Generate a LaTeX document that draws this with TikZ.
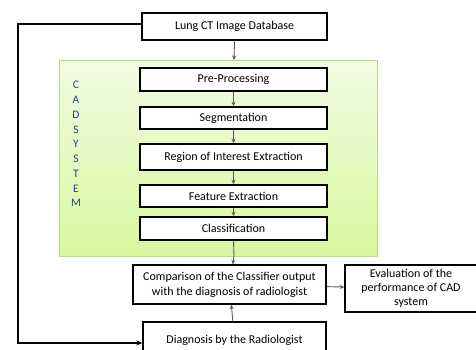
\documentclass[tikz,border=0pt]{standalone}
\usepackage{fontspec}
\setmainfont{Carlito}
\usetikzlibrary{arrows.meta}
\definecolor{cadtop}{RGB}{242,251,228}
\definecolor{cadbottom}{RGB}{215,248,158}
\definecolor{cadedge}{RGB}{183,219,135}
\definecolor{cadletter}{RGB}{31,73,125}

\begin{document}
\begin{tikzpicture}[x=1pt,y=-1pt,
	stage/.style={draw, line width=1.4pt, fill=white, align=center, font=\fontsize{12}{15}\selectfont, inner sep=2pt},
	flow/.style={draw=black!65, line width=0.9pt, -{Stealth[length=4.5pt,width=4pt]}},
	loop/.style={draw, line width=1.5pt, -{Stealth[length=6pt,width=5pt]}}]
	\useasboundingbox (0,0) rectangle (476,350);

	% CAD system panel
	\shade[top color=cadtop, bottom color=cadbottom, draw=cadedge, line width=0.9pt] (59,60) rectangle (377,256);
	\coordinate (cadtopmid) at (234,60);
	\coordinate (cadbotmid) at (234,256);
	\foreach \ch [count=\i] in {C,A,D,S,Y,S,T,E,M}
		\node[text=cadletter, font=\fontsize{11.5}{12}\selectfont] at (76,{70.5+14.75*\i}) {\ch};

	% stages
	\node[stage, minimum width=185pt, minimum height=27pt] (lungdb) at (234.5,26.5) {Lung CT Image Database};
	\node[stage, minimum width=187pt, minimum height=23pt] (preproc) at (233.5,79.5) {Pre-Processing};
	\node[stage, minimum width=187pt, minimum height=22pt] (segment) at (233.5,118) {Segmentation};
	\node[stage, minimum width=187pt, minimum height=26pt] (roi) at (233.5,157) {Region of Interest Extraction};
	\node[stage, minimum width=187pt, minimum height=22pt] (feature) at (233.5,196) {Feature Extraction};
	\node[stage, minimum width=187pt, minimum height=23pt] (classify) at (233.5,228.5) {Classification};
	\node[stage, minimum width=193pt, minimum height=39pt] (compare) at (229.5,284.5) {Comparison of the Classifier output\\with the diagnosis of radiologist};
	\node[stage, minimum width=132pt, minimum height=47pt, font=\fontsize{12}{14}\selectfont] (evaluate) at (411,288.5) {Evaluation of the\\performance of CAD\\system};
	\node[stage, minimum width=183pt, minimum height=36pt] (diagnosis) at (234.5,340) {Diagnosis by the Radiologist};

	% connectors
	\draw[flow] (lungdb.south) -- (cadtopmid);
	\draw[flow] (preproc) -- (segment);
	\draw[flow] (segment) -- (roi);
	\draw[flow] (roi) -- (feature);
	\draw[flow] (feature) -- (classify);
	\draw[draw=black!65, line width=0.9pt] (classify.south) -- (cadbotmid);
	\draw[flow] (cadbotmid) -- (compare);
	\draw[flow] (diagnosis) -- (compare);
	\draw[flow] (compare) -- (evaluate);
	\draw[loop] (lungdb.west |- 0,24) -- (18,24) -- (18,343) -- (diagnosis.west |- 0,343);
\end{tikzpicture}
\end{document}
